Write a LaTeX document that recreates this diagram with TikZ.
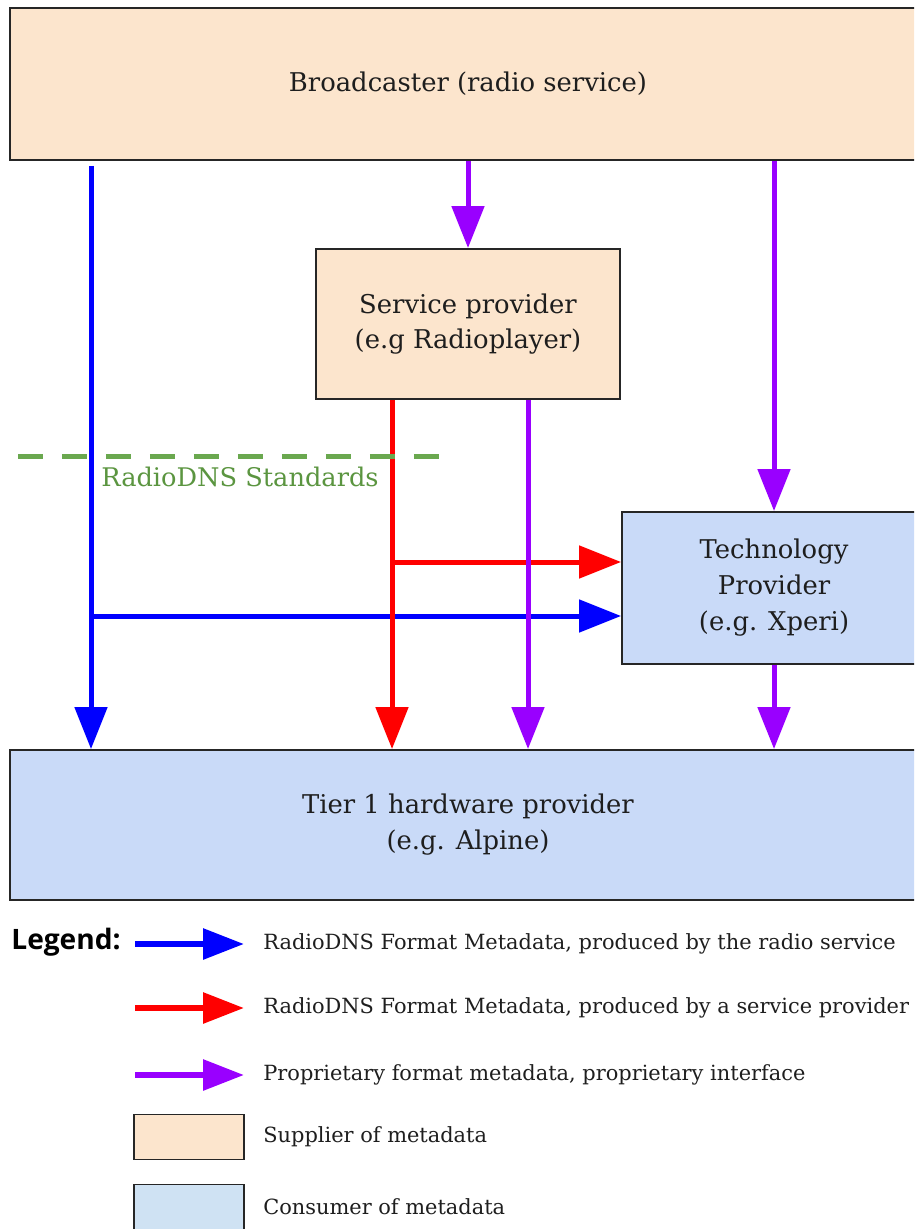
\documentclass[tikz,border=0pt]{standalone}
\usepackage{fontspec}
\setmainfont{DejaVu Serif}
\newfontfamily\legendfont{Open Sans}
\usepackage{tikz}
\usetikzlibrary{arrows.meta}

\definecolor{supplierfill}{HTML}{FCE5CD}
\definecolor{consumerfill}{HTML}{C9DAF8}
\definecolor{consumerkey}{HTML}{CFE2F3}
\definecolor{rdnsblue}{HTML}{0000FF}
\definecolor{rdnsred}{HTML}{FF0000}
\definecolor{propviolet}{HTML}{9900FF}
\definecolor{stdgreen}{HTML}{6AA84F}
\definecolor{stdtextgreen}{HTML}{5B9540}
\definecolor{inktext}{HTML}{1E1E1E}

\begin{document}
\begin{tikzpicture}[x=0.02cm, y=-0.02cm,
    supplier/.style={draw=black!85, line width=1.1pt, fill=supplierfill,
        align=center, text=inktext, font=\fontsize{14.7}{20}\selectfont},
    consumer/.style={draw=black!85, line width=1.1pt, fill=consumerfill,
        align=center, text=inktext, font=\fontsize{14.7}{20.5}\selectfont},
    flow/.style={line width=0.1cm, -{Triangle[width=0.64cm, length=0.84cm]}},
    keyflow/.style={line width=0.12cm, -{Triangle[width=0.6cm, length=0.82cm]}},
    keytext/.style={anchor=west, inner sep=0pt, text=inktext, font=\fontsize{11.9}{14}\selectfont}
    ]

    \useasboundingbox (0,0) rectangle (914,1229);
    \clip (0,0) rectangle (914,1229);

    % boxes
    \node[supplier, minimum width=18.32cm, minimum height=3.04cm
        ] (bcast) at (468,84) {Broadcaster (radio service)};

    \node[supplier, minimum width=6.08cm, minimum height=3.0cm
        ] (sprov) at (468,324) {Service provider\\(e.g Radioplayer)};

    \node[consumer, minimum width=6.08cm, minimum height=3.04cm
        ] (tech) at (774,588) {Technology\\Provider\\(e.g. Xperi)};

    \node[consumer, minimum width=18.32cm, minimum height=3.0cm
        ] (tier) at (468,825) {Tier 1 hardware provider\\(e.g. Alpine)};

    % where the lines run
    \coordinate (bluex) at (91,0);
    \coordinate (redx) at (392,0);
    \coordinate (violetx) at (528,0);
    \coordinate (redjoin) at (392,562);
    \coordinate (bluejoin) at (91,616);

    % radio service metadata
    \draw[flow, rdnsblue, shorten <=0.1cm] (bcast.south -| bluex) -- (tier.north -| bluex);
    \draw[flow, rdnsblue] (bluejoin) -- (bluejoin -| tech.west);

    % service provider metadata
    \draw[flow, rdnsred] (sprov.south -| redx) -- (tier.north -| redx);
    \draw[flow, rdnsred] (redjoin) -- (redjoin -| tech.west);

    % proprietary
    \draw[flow, propviolet] (bcast.south -| sprov.north) -- (sprov.north);
    \draw[flow, propviolet] (bcast.south -| tech.north) -- (tech.north);
    \draw[flow, propviolet] (sprov.south -| violetx) -- (tier.north -| violetx);
    \draw[flow, propviolet] (tech.south) -- (tech.south |- tier.north);

    % standards line
    \coordinate (stdleft) at (18,456);
    \coordinate (stdright) at (440,456);
    \draw[stdgreen, line width=0.1cm, dash pattern=on 0.5cm off 0.38cm] (stdleft) -- (stdright);
    \node[text=stdtextgreen, font=\fontsize{14.6}{16}\selectfont] (stdlabel) at (240,477) {RadioDNS Standards};

    % legend
    \node[font=\legendfont\bfseries\fontsize{16}{18}\selectfont, text=black
        ] (legend) at (66,942) {Legend:};

    \coordinate (keyA) at (135,944);
    \coordinate (keyB) at (135,1008);
    \coordinate (keyC) at (135,1075);

    \draw[keyflow, rdnsblue] (keyA) -- +(109,0);
    \node[keytext] (keyAtext) at (263,944) {RadioDNS Format Metadata, produced by the radio service};

    \draw[keyflow, rdnsred] (keyB) -- +(109,0);
    \node[keytext] (keyBtext) at (263,1008) {RadioDNS Format Metadata, produced by a service provider};

    \draw[keyflow, propviolet] (keyC) -- +(109,0);
    \node[keytext] (keyCtext) at (263,1075) {Proprietary format metadata, proprietary interface};

    \node[supplier, minimum width=2.2cm, minimum height=0.9cm
        ] (keysup) at (189,1137) {};
    \node[keytext] (keysuptext) at (263,1137) {Supplier of metadata};

    \node[consumer, fill=consumerkey, minimum width=2.2cm, minimum height=0.9cm
        ] (keycon) at (189,1207) {};
    \node[keytext] (keycontext) at (263,1207) {Consumer of metadata};

\end{tikzpicture}
\end{document}
